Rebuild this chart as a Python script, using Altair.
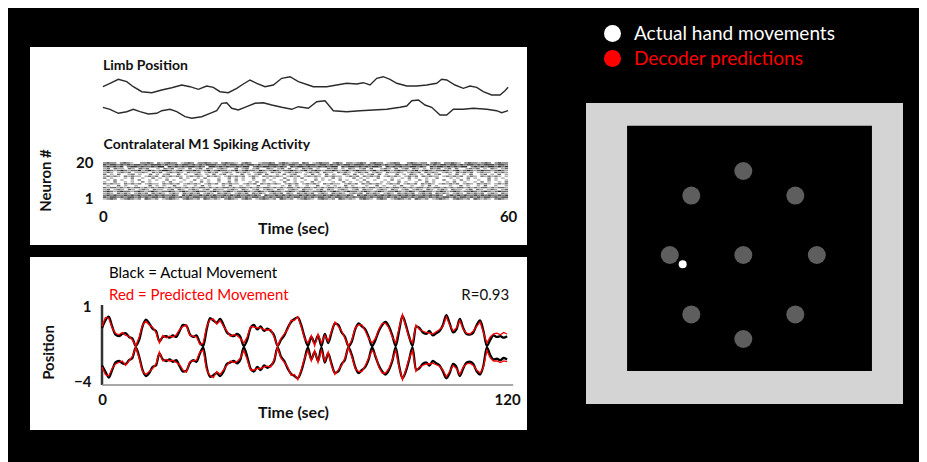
import altair as alt
import pandas as pd

FONT = "Lato"

# ---------------- Top-left panel: limb position + M1 raster ----------------
limb_upper_t = [0, 1.05, 2.28, 3.52, 4.50, 5.75, 7.23, 8.71, 10.19, 11.67, 12.90, 14.13, 15.37,
                16.35, 17.34, 18.57, 19.81, 20.79, 21.78, 22.78, 24.0, 25.23, 26.48, 27.71, 28.94,
                30.42, 31.16, 33.14, 34.62, 36.10, 37.58, 38.56, 39.55, 40.55, 41.52, 42.51, 43.51,
                44.99, 46.47, 47.95, 49.43, 50.17, 50.91, 52.14, 53.37, 54.36, 55.35, 56.33, 57.57,
                58.80, 59.54, 60.0]
limb_upper_v = [15.83, 16.17, 16.57, 16.33, 15.83, 15.33, 15.23, 15.5, 15.73, 16.0, 15.83, 15.57,
                15.9, 15.77, 15.33, 15.23, 15.67, 16.1, 16.5, 16.17, 15.83, 16.0, 16.67, 16.83,
                16.33, 16.0, 15.83, 15.83, 16.0, 16.17, 16.1, 16.23, 16.0, 16.67, 16.83, 16.57,
                16.17, 15.9, 15.9, 16.0, 16.17, 16.57, 16.5, 16.0, 15.67, 15.9, 15.77, 15.33, 15.0,
                15.0, 15.43, 15.77]
limb_lower_t = [0, 1.05, 2.28, 3.52, 4.50, 5.49, 6.72, 7.97, 8.71, 9.94, 10.93, 12.16, 13.15,
                14.63, 15.86, 16.85, 17.59, 18.33, 19.07, 20.05, 21.29, 22.52, 23.75, 25.0, 26.48,
                27.96, 28.94, 30.42, 31.66, 32.89, 33.63, 34.12, 36.10, 38.07, 40.04, 42.03, 44.0,
                44.99, 45.73, 46.71, 47.70, 48.69, 49.92, 50.91, 51.89, 53.37, 54.85, 56.83, 58.31,
                59.05, 60.0]
limb_lower_v = [13.77, 13.57, 13.17, 13.33, 13.57, 13.33, 13.1, 13.17, 13.43, 13.57, 13.33, 12.83,
                12.67, 12.83, 13.17, 13.43, 14.17, 14.23, 13.67, 13.5, 13.83, 14.17, 14.23, 14.0,
                13.77, 13.57, 13.83, 13.67, 14.33, 14.43, 13.83, 13.43, 13.33, 13.43, 13.5, 13.57,
                13.77, 13.9, 14.43, 14.5, 14.0, 13.77, 13.0, 13.0, 13.57, 13.57, 13.67, 13.57,
                13.43, 13.23, 13.43]

# spike raster, neuron 20 (top) down to neuron 1; '#' dense, '=' medium, '-' sparse
raster_neurons = list(range(20, 0, -1))
raster_rows = [
    "=#== =#=-  ==#= =-=#== -=#= ==#=-= =#==- =#=  -==#= =#=-== #= -=#== =#= ==-=#= =#== -=#=  =#=-== =#= ==#=- =#==-=#= =#==",
    "#=##=#=#=##=#=###=#==#=##=#=#=###==#=##=#=##=#==###=#=##=#=###=##=#=#=##=###=#=##=#==##=#=###=#=#=##=##=#=##=#=###=##=",
    "=#=#=# =##=#==#=## #=#=#=##=#= ##=#=#==#=## =#=##=#=#= #=##=#==#=#=## #=##=#=#=##= #=#=#==##=#= #=##=#=#=## =#=#=##=#=#",
    "-= =-- =- =-=  - =-= -- = -= =- -=-  = -= -=  =- -= = - =-= -  =-= - =- -= =  -=- = -= =- - =-= -= =  -=-= - =- -=",
    "=#=-=#=-==#-=#=-=##=-=#-==#=-=#-=#==-=#-=#==-#=-=#=-==#=-=#-=#=-==#=-=#-=#==-=#-=#=-=#==-=#-=#=-==#=-=#-=#=-=#==-=#=-",
    "-=- -=-= --=- =-= -=-=- =--= -=-= -=- =-=- -==- =-= -=-=- -=-= =-- =-=- -=-= -=- =--=- -=-= =-=- -=- =-=-= -=-- =-=-",
    "= - =  -= -  = - -=  = -  =- - = -= -  = - -= =  - = -=  - = - = -  =- = - -= = -  = - =- - = -=  - = - =  -= - = -",
    "-=-=- =-=-- -=-= =-=-=- -=-=- =-=- -=-=-= -=- =-=-=- -=-= -=-=- =-=-- -=-= =-=-= -=-=- -=-= =-=-- -=-=-= -=- =-=-=- -",
    "= -   - =  -  = - -   = -  - =   -  = - -  =   - -  =  - =   - -  = -   = - -  =   -  - = -  -  =   - -  = -   = - - ",
    " - = -  - =  - -  = -  -  = - -  =  - = -  -  = -  - = -  -  = - -  = -  - =  -  - = -  -  = - -  =  - = -  -  = -  -",
    "-  =  - -  = -   - =  -  -  = -  -  = -   - = -  -  =  - -  = -   -  = -  - =   - -  = -  -  = -   - =  -  - = -  - =",
    "=-=-- =-=-= -=-- =-=-= -=-=- -=-= =-=-- -=-= =-=-=- -=-= -=-=- =-=-- -=-= =-=-=- -=-= -=-= =-=- -=-=-= -=- =-=- -=-=",
    " -  = -  -   = - -  =  -  - = -   - =  - -  =  -   - = -  -  =  - -  = -   -  = -  - =  -  - = -   -  = -  - =  -  -",
    "=-==-=-=-==-=-=-==-=-==-=-=-==-=-=-==-=-==-=-=-==-=-=-==-=-==-=-=-==-=-=-==-=-==-=-=-==-=-=-==-=-==-=-=-==-=-=-==-=-==-",
    "-= -=- =- -=- =-- -= =- -=- -= =-- -=- =- -= -=- =- -=- =-- -= =- -=- -= =-- -=- =- -= -=- =- -=- =-- -= =- -=- -=",
    "=#=-=#==-=#=-=#=-==#=-=#=-=#==-=#=-=#=-==#=-=#=-=#==-=#=-=#=-==#=-=#=-=#==-=#=-=#=-==#=-=#=-=#==-=#=-=#=-==#=-=#=-=#==",
    "-=- =-=- -=-= =-=- -=- =-=-= -=- =-=- -=-= =-=- -=-= =- =-=-= -=- =-=- -=-= =-=- -=- =-=-= -=-= =-=- -=- =-=-= -=- =-",
    "=#=#==#=#=#==#=#=#==#= #=#==#=#=#==#=#=#==#=#= #==#=#=#==#=#=#==#=#=#==#= #=#==#=#=#==#=#=#==#=#=#= =#=#=#==#=#=#==#=#",
    "#=##=#=##=#=#=##=#=##=#=#=##=#=##=#=#=##=#=##=#=#=##=#=##=#=#=##=#=##=#=#=##=#=##=#=#=##=#=##=#=#=##=#=##=#=#=##=#=##",
    "-=#= -=#=-= #=-= -=#=- =#=-= #=-=- =#=- =#= -=#=-= #=-= -=#=- =#=-= #=-=- =#=- =#= -=#=-= #=-= -=#=- =#=-= #=-=- =#=-",
]
raster_duration = 60.0
shade_keys = ["#", "=", "-"]
shade_colors = ["#2a2a2a", "#6a6a6a", "#a8a8a8"]

top_labels = ["Limb Position", "Contralateral M1 Spiking Activity"]
top_label_t = [0.0, 0.1]
top_label_v = [17.9, 10.0]

# ---------------- Bottom-left panel: actual vs predicted movement ----------------
move_t = list(range(121))
actual_upper = [
    -0.4, 0.1, 0.35, -0.3, -0.85, -0.95, -0.8, -0.75, -1.0, -1.1,
    -1.6, -1.2, -0.3, 0.15, -0.1, -0.45, -0.6, -1.3, -1.0, -0.95,
    -1.05, -0.9, -1.0, -0.6, -0.2, -0.25, -0.8, -1.0, -0.9, -1.4,
    -1.6, -0.5, 0.25, 0.1, -0.05, 0.2, -0.2, -0.7, -0.85, -0.95,
    -0.8, -1.0, -1.6, -1.2, -0.4, -0.2, -0.5, -0.3, -0.6, -0.45,
    -0.6, -0.9, -1.6, -1.2, -0.9, -0.4, 0.0, 0.2, 0.3, -0.2,
    -1.0, -1.6, -1.0, -1.4, -0.9, -1.6, -0.8, -1.4, -0.7, -0.1,
    -0.2, -0.7, -1.0, -1.6, -1.3, -0.5, -0.1, -0.3, -0.5, -1.0,
    -1.6, -1.2, -0.6, -0.2, 0.0, -0.3, -0.9, -1.6, -0.6, 0.4,
    -0.2, -1.0, -1.6, -0.3, -0.4, -0.7, -0.8, -0.6, -0.9, -0.75,
    -0.6, -0.2, 0.45, -0.1, -0.7, -0.5, 0.2, -0.4, -0.8, -0.85,
    -0.7, -0.2, 0.1, -0.6, -1.6, -1.2, -0.9, -1.0, -0.95, -1.05,
    -0.95]
actual_lower = [
    -2.9, -3.3, -3.7, -3.2, -2.7, -2.6, -2.75, -2.8, -2.55, -2.4,
    -1.7, -2.3, -3.2, -3.6, -3.4, -3.0, -2.9, -2.1, -2.5, -2.6,
    -2.5, -2.65, -2.55, -2.95, -3.3, -3.25, -2.75, -2.55, -2.65, -2.1,
    -1.7, -3.0, -3.65, -3.55, -3.4, -3.6, -3.3, -2.8, -2.7, -2.6,
    -2.75, -2.5, -1.7, -2.3, -3.1, -3.3, -3.0, -3.2, -2.9, -3.05,
    -2.9, -2.6, -1.7, -2.3, -2.6, -3.1, -3.45, -3.6, -3.75, -3.3,
    -2.5, -1.7, -2.5, -2.0, -2.6, -1.7, -2.7, -2.1, -2.8, -3.4,
    -3.3, -2.8, -2.5, -1.7, -2.2, -3.0, -3.4, -3.2, -3.0, -2.5,
    -1.7, -2.3, -2.9, -3.3, -3.5, -3.2, -2.6, -1.7, -2.9, -3.75,
    -3.3, -2.5, -1.7, -3.2, -3.1, -2.8, -2.7, -2.9, -2.6, -2.75,
    -2.9, -3.3, -3.75, -3.4, -2.8, -3.0, -3.6, -3.1, -2.7, -2.65,
    -2.8, -3.3, -3.5, -2.9, -1.7, -2.2, -2.5, -2.45, -2.55, -2.4,
    -2.5]
predicted_upper = [
    -0.3, 0.3, 0.25, -0.4, -0.75, -0.85, -0.7, -0.9, -0.95, -1.2,
    -1.6, -1.0, -0.2, 0.05, -0.2, -0.35, -0.7, -1.4, -0.9, -1.05,
    -0.95, -1.0, -0.85, -0.5, -0.3, -0.2, -0.9, -0.95, -1.0, -1.5,
    -1.4, -0.3, 0.15, 0.2, -0.15, 0.1, -0.3, -0.6, -0.95, -0.85,
    -0.9, -1.1, -1.4, -1.0, -0.3, -0.35, -0.4, -0.4, -0.5, -0.55,
    -0.5, -1.0, -1.6, -1.1, -0.8, -0.5, 0.1, 0.1, 0.35, -0.3,
    -1.1, -1.4, -0.9, -1.6, -0.8, -1.4, -0.9, -1.3, -0.6, 0.0,
    -0.3, -0.6, -1.1, -1.6, -1.2, -0.4, -0.2, -0.2, -0.6, -1.1,
    -1.4, -1.1, -0.5, -0.1, -0.1, -0.4, -1.0, -1.4, -0.4, 0.5,
    -0.3, -1.1, -1.4, -0.2, -0.5, -0.6, -0.7, -0.75, -0.8, -0.65,
    -0.5, -0.3, 0.35, -0.2, -0.6, -0.4, 0.1, -0.5, -0.75, -0.8,
    -0.6, -0.3, 0.0, -0.7, -1.4, -1.0, -0.8, -0.75, -0.85, -0.7,
    -0.8]
predicted_lower = [
    -3.0, -3.5, -3.6, -3.1, -2.8, -2.7, -2.6, -2.9, -2.6, -2.3,
    -1.7, -2.4, -3.3, -3.5, -3.3, -3.1, -2.8, -2.0, -2.6, -2.5,
    -2.6, -2.55, -2.7, -2.85, -3.2, -3.35, -2.65, -2.6, -2.55, -2.0,
    -1.9, -3.2, -3.55, -3.7, -3.3, -3.5, -3.2, -2.9, -2.6, -2.7,
    -2.65, -2.4, -1.9, -2.5, -3.2, -3.2, -3.1, -3.1, -3.0, -2.95,
    -3.0, -2.5, -1.7, -2.4, -2.7, -3.0, -3.55, -3.5, -3.85, -3.2,
    -2.4, -1.9, -2.6, -1.9, -2.7, -1.9, -2.6, -2.0, -2.9, -3.5,
    -3.2, -2.9, -2.4, -1.7, -2.3, -3.1, -3.3, -3.3, -2.9, -2.4,
    -1.9, -2.2, -3.0, -3.4, -3.4, -3.1, -2.5, -1.9, -3.0, -3.85,
    -3.2, -2.4, -1.9, -3.3, -3.0, -2.9, -2.8, -2.8, -2.75, -2.85,
    -2.95, -3.2, -3.65, -3.3, -2.9, -3.1, -3.5, -3.0, -2.8, -2.75,
    -2.9, -3.2, -3.4, -3.0, -1.9, -2.4, -2.6, -2.6, -2.7, -2.6,
    -2.65]

note_black = ["Black = Actual Movement"]
note_red = ["Red = Predicted Movement"]
note_t = [2.07]
note_black_v = [3.25]
note_red_v = [1.8]
r_note = ["R=0.93"]
r_note_t = [120.6]
r_note_v = [1.8]
y_axis_line_t = [0.0]
y_axis_line_v = [-4.2, 1.13]
x_axis_line_t = [0.0, 121.8]
x_axis_line_v = [-4.2]

# ---------------- Right panel: center-out task ----------------
target_x = [0, 0, 0, -8, 8, -5.66, 5.66, -5.66, 5.66]
target_y = [0, 8, -8, 0, 0, 5.66, 5.66, -5.66, -5.66]
frame_x = [-17.12, 17.38]
frame_y = [-14.19, 14.48]
arena_x = [-12.65, 14.0]
arena_y = [-11.05, 12.3]
cursor_x = [-6.6]
cursor_y = [-0.89]
legend_labels = ["Actual hand movements", "Decoder predictions"]
legend_colors = ["#ffffff", "#ff0000"]

# ================= build tables =================
recs = []
for n, s in zip(raster_neurons, raster_rows):
    dt = raster_duration / len(s)
    i = 0
    while i < len(s):
        c = s[i]
        j = i
        while j < len(s) and s[j] == c:
            j += 1
        if c != " ":
            recs.append({"t0": i * dt, "t1": j * dt, "y0": n - 0.36, "y1": n + 0.36, "shade": c})
        i = j
raster_df = pd.DataFrame(recs)

limb_df = pd.concat([
    pd.DataFrame({"t": limb_upper_t, "v": limb_upper_v, "trace": "upper"}),
    pd.DataFrame({"t": limb_lower_t, "v": limb_lower_v, "trace": "lower"}),
])
top_text_df = pd.DataFrame({"t": top_label_t, "v": top_label_v, "label": top_labels})

black_df = pd.concat([
    pd.DataFrame({"t": move_t, "v": actual_upper, "trace": "upper"}),
    pd.DataFrame({"t": move_t, "v": actual_lower, "trace": "lower"}),
])
red_df = pd.concat([
    pd.DataFrame({"t": move_t, "v": predicted_upper, "trace": "upper"}),
    pd.DataFrame({"t": move_t, "v": predicted_lower, "trace": "lower"}),
])
note_black_df = pd.DataFrame({"t": note_t, "v": note_black_v, "label": note_black})
note_red_df = pd.DataFrame({"t": note_t, "v": note_red_v, "label": note_red})
r_df = pd.DataFrame({"t": r_note_t, "v": r_note_v, "label": r_note})
yline_df = pd.DataFrame({"t": y_axis_line_t, "v0": [y_axis_line_v[0]], "v1": [y_axis_line_v[1]]})
xline_df = pd.DataFrame({"t0": [x_axis_line_t[0]], "t1": [x_axis_line_t[1]], "v": x_axis_line_v})

targets_df = pd.DataFrame({"x": target_x, "y": target_y})
frame_df = pd.DataFrame({"x0": [frame_x[0]], "x1": [frame_x[1]], "y0": [frame_y[0]], "y1": [frame_y[1]]})
arena_df = pd.DataFrame({"x0": [arena_x[0]], "x1": [arena_x[1]], "y0": [arena_y[0]], "y1": [arena_y[1]]})
cursor_df = pd.DataFrame({"x": cursor_x, "y": cursor_y, "kind": [legend_labels[0]]})

# ================= top-left panel =================
def x_top():
    return alt.Scale(domain=[-10.8, 62.8], nice=False, zero=False)

def y_neuron():
    return alt.Scale(domain=[-23.3, 81.2], nice=False, zero=False)

def y_limb():
    return alt.Scale(domain=[0, 19.8], nice=False, zero=False)

top_x_axis = alt.Axis(
    values=[0, 60], orient="bottom", offset=-40, domain=False, ticks=False, tickSize=0,
    grid=False, labelPadding=4, labelFlush=False, labelFont=FONT, labelFontSize=15,
    labelFontWeight="bold", labelColor="#111111", title="Time (sec)", titleFont=FONT,
    titleFontSize=16, titleFontWeight="bold", titleColor="#111111", titleX=263, titleY=23,
    titleAlign="center", titleBaseline="middle")
top_y_axis = alt.Axis(
    values=[1, 20], orient="left", offset=-66, domain=False, ticks=False, tickSize=0,
    grid=False, labelPadding=3, labelFont=FONT, labelFontSize=15, labelFontWeight="bold",
    labelColor="#111111", title="Neuron #", titleFont=FONT, titleFontSize=15,
    titleFontWeight="bold", titleColor="#111111", titleX=-51, titleY=133, titleAngle=270,
    titleAlign="center", titleBaseline="middle")

raster_layers = []
for k, (key, col) in enumerate(zip(shade_keys, shade_colors)):
    raster_layers.append(
        alt.Chart(raster_df).transform_filter(alt.datum.shade == key).mark_rect(color=col).encode(
            x=alt.X("t0:Q", scale=x_top(), axis=top_x_axis if k == 0 else None),
            x2="t1:Q",
            y=alt.Y("y0:Q", scale=y_neuron(), axis=top_y_axis if k == 0 else None),
            y2="y1:Q",
        )
    )
limb = alt.Chart(limb_df).mark_line(color="#2b2b2b", strokeWidth=1.4).encode(
    x=alt.X("t:Q", scale=x_top(), axis=None),
    y=alt.Y("v:Q", scale=y_limb(), axis=None),
    detail="trace:N",
)
top_text = alt.Chart(top_text_df).mark_text(
    align="left", baseline="middle", font=FONT, fontSize=14, fontWeight="bold", color="#111111"
).encode(
    x=alt.X("t:Q", scale=x_top(), axis=None),
    y=alt.Y("v:Q", scale=y_limb(), axis=None),
    text="label:N",
)
top = alt.layer(*raster_layers, limb, top_text).resolve_scale(
    x="independent", y="independent").properties(
    width=497, height=198, view=alt.ViewBackground(fill="white"))

# ================= bottom-left panel =================
def x_bot():
    return alt.Scale(domain=[-21.33, 125.9], nice=False, zero=False)

def y_bot():
    return alt.Scale(domain=[-7.2, 4.33], nice=False, zero=False)

yline = alt.Chart(yline_df).mark_rule(color="#333333", strokeWidth=2.5).encode(
    x=alt.X("t:Q", scale=x_bot(), axis=None),
    y=alt.Y("v0:Q", scale=y_bot(), axis=None),
    y2="v1:Q",
)
xline = alt.Chart(xline_df).mark_rule(color="#8c8c8c", strokeWidth=1.5).encode(
    x=alt.X("t0:Q", scale=x_bot(), axis=None),
    x2="t1:Q",
    y=alt.Y("v:Q", scale=y_bot(), axis=None),
)
black_lines = alt.Chart(black_df).mark_line(color="#000000", strokeWidth=2.3,
                                            interpolate="monotone").encode(
    x=alt.X("t:Q", scale=x_bot(), axis=alt.Axis(
        values=[0, 120], orient="bottom", offset=-44, domain=False, ticks=False, tickSize=0,
        grid=False, labelPadding=6, labelFlush=False, labelFont=FONT, labelFontSize=15,
        labelFontWeight="bold", labelColor="#111111", title="Time (sec)", titleFont=FONT,
        titleFontSize=16, titleFontWeight="bold", titleColor="#111111", titleX=263, titleY=26,
        titleAlign="center", titleBaseline="middle")),
    y=alt.Y("v:Q", scale=y_bot(), axis=alt.Axis(
        values=[-4, 1], orient="left", offset=-71, domain=False, ticks=False, tickSize=0,
        grid=False, labelPadding=10, labelFont=FONT, labelFontSize=15, labelFontWeight="bold",
        labelColor="#111111", title="Position", titleFont=FONT, titleFontSize=15,
        titleFontWeight="bold", titleColor="#111111", titleX=-53, titleY=95, titleAngle=270,
        titleAlign="center", titleBaseline="middle")),
    detail="trace:N",
)
red_lines = alt.Chart(red_df).mark_line(color="#ff0000", strokeWidth=1.3).encode(
    x=alt.X("t:Q", scale=x_bot(), axis=None),
    y=alt.Y("v:Q", scale=y_bot(), axis=None),
    detail="trace:N",
)
note1 = alt.Chart(note_black_df).mark_text(align="left", baseline="middle", font=FONT, fontSize=15,
                                           color="#000000").encode(
    x=alt.X("t:Q", scale=x_bot(), axis=None),
    y=alt.Y("v:Q", scale=y_bot(), axis=None),
    text="label:N",
)
note2 = alt.Chart(note_red_df).mark_text(align="left", baseline="middle", font=FONT, fontSize=15,
                                         color="#ff0000").encode(
    x=alt.X("t:Q", scale=x_bot(), axis=None),
    y=alt.Y("v:Q", scale=y_bot(), axis=None),
    text="label:N",
)
r_text = alt.Chart(r_df).mark_text(align="right", baseline="middle", font=FONT, fontSize=15,
                                   color="#111111").encode(
    x=alt.X("t:Q", scale=x_bot(), axis=None),
    y=alt.Y("v:Q", scale=y_bot(), axis=None),
    text="label:N",
)
bottom = alt.layer(yline, xline, black_lines, red_lines, note1, note2, r_text).resolve_scale(
    x="independent", y="independent").properties(
    width=497, height=173, view=alt.ViewBackground(fill="white"))

left = alt.vconcat(top, bottom, spacing=12)

# ================= right panel =================
xs = alt.Scale(domain=[-17.12, 17.38], nice=False, zero=False)
ys = alt.Scale(domain=[-14.19, 19.81], nice=False, zero=False)

frame = alt.Chart(frame_df).mark_rect(color="#d4d4d4").encode(
    x=alt.X("x0:Q", scale=xs, axis=None), x2="x1:Q",
    y=alt.Y("y0:Q", scale=ys, axis=None), y2="y1:Q",
)
arena = alt.Chart(arena_df).mark_rect(color="#000000").encode(
    x=alt.X("x0:Q", scale=xs, axis=None), x2="x1:Q",
    y=alt.Y("y0:Q", scale=ys, axis=None), y2="y1:Q",
)
targets = alt.Chart(targets_df).mark_circle(size=324, color="#5e5e5e", opacity=1).encode(
    x=alt.X("x:Q", scale=xs, axis=None),
    y=alt.Y("y:Q", scale=ys, axis=None),
)
cursor = alt.Chart(cursor_df).mark_circle(size=64, opacity=1).encode(
    x=alt.X("x:Q", scale=xs, axis=None),
    y=alt.Y("y:Q", scale=ys, axis=None),
    color=alt.Color("kind:N", scale=alt.Scale(domain=legend_labels, range=legend_colors),
                    legend=alt.Legend(
                        title=None, orient="none", legendX=17, legendY=-23, symbolType="circle",
                        symbolSize=289, symbolStrokeWidth=0, symbolOpacity=1, labelFont=FONT,
                        labelFontSize=19, labelLimit=400, labelOffset=12, rowPadding=5, padding=0,
                        labelColor=alt.ExprRef(expr="datum.label == 'Decoder predictions' ? '#ff0000' : '#ffffff'"))),
)
right = alt.layer(frame, arena, targets, cursor).properties(width=317, height=357)

chart = alt.hconcat(left, right, spacing=59).resolve_scale(color="independent").configure(
    background="#000000",
    padding={"left": 22, "top": 16, "right": 16, "bottom": 32},
).configure_view(stroke=None).configure_axis(grid=False)

chart.save("out.html", embed_options={"renderer": "svg", "actions": False})
